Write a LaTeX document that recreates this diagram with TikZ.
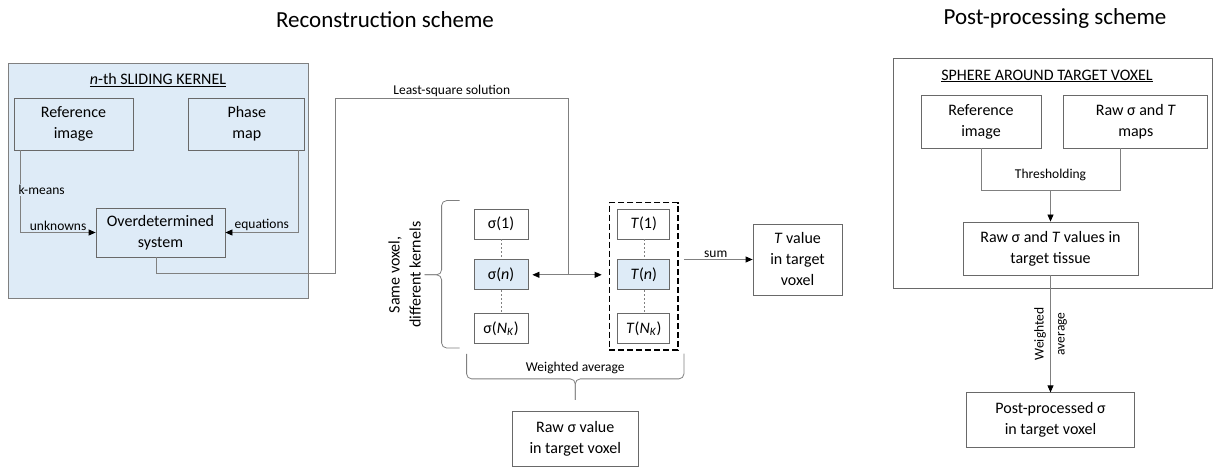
\documentclass[tikz,border=0pt]{standalone}
\usepackage{fontspec}
\setmainfont{Carlito}
\usepackage{tikz}
\usetikzlibrary{arrows.meta, positioning, fit, calc}
\definecolor{kernelblue}{RGB}{222,235,247}
\definecolor{boxgray}{RGB}{105,105,105}
\definecolor{linegray}{RGB}{128,128,128}
\newcommand{\boxfont}{\fontsize{16}{21}\selectfont}
\newcommand{\lblfont}{\fontsize{13.5}{16}\selectfont}
\newcommand{\titlefont}{\fontsize{23}{27}\selectfont}
\tikzstyle{block} = [rectangle, draw=boxgray, line width=0.8pt, fill=white, align=center, inner sep=0pt, font=\boxfont]
\tikzstyle{cell} = [block, minimum width=54pt, minimum height=30pt]
\tikzstyle{link} = [draw=linegray, line width=0.8pt]
\tikzstyle{arrow} = [link, -{Triangle[length=7pt, width=6pt, color=black]}]
\tikzstyle{dblarrow} = [link, {Triangle[length=7pt, width=6pt, color=black]}-{Triangle[length=7pt, width=6pt, color=black]}]
\tikzstyle{lbl} = [font=\lblfont, inner sep=1.5pt]
\tikzstyle{dotlink} = [draw=linegray, line width=0.5pt, dash pattern=on 2pt off 2pt]
\begin{document}
\begin{tikzpicture}[x=1pt, y=1pt]
    \useasboundingbox (0,0) rectangle (1213,466);
    % Titles
    \node (rectitle) at (385,446) {\titlefont Reconstruction scheme};
    \node (posttitle) at (1055,448) {\titlefont Post-processing scheme};

    % Sliding kernel box
    \node (kernel) [block, fill=kernelblue, draw=linegray, minimum width=300pt, minimum height=235pt] at (158,285.5) {};
    \node (ktitle) at (158,386) [font=\boxfont] {\underline{\textit{n}-th SLIDING KERNEL}};
    \node (refimg) [block, fill=kernelblue, minimum width=119pt, minimum height=52pt] at (73.5,342) {Reference\\image};
    \node (phase) [block, fill=kernelblue, right=55pt of refimg, minimum width=116pt, minimum height=52pt] {Phase\\map};
    \node (overdet) [block, fill=kernelblue, minimum width=129pt, minimum height=49pt] at (160.5,233.5) {Overdetermined\\system};
    \draw [arrow] ([xshift=7pt]refimg.south west) |- node[lbl, pos=0.24, anchor=west, xshift=-4pt, fill=kernelblue] (kmeans) {k-means} node[lbl, above, pos=0.75] (unk) {unknowns} (overdet.west);
    \draw [arrow] ([xshift=-7pt]phase.south east) |- node[lbl, above, pos=0.75] (eqs) {equations} (overdet.east);

    % Sigma and T columns
    \node (sig1) [cell] at (501,242) {σ(1)};
    \node (sign) [cell, fill=kernelblue, below=20pt of sig1] {σ(\textit{n})};
    \node (signk) [cell, below=23pt of sign] {σ(\textit{N}\textsubscript{\textit{K}})};
    \draw [dotlink] (sig1) -- (sign);
    \draw [dotlink] (sign) -- (signk);
    \node (t1) [cell, minimum width=52pt, right=89pt of sig1] {\textit{T}(1)};
    \node (tn) [cell, minimum width=52pt, fill=kernelblue, below=20pt of t1] {\textit{T}(\textit{n})};
    \node (tnk) [cell, minimum width=52pt, below=23pt of tn] {\textit{T}(\textit{N}\textsubscript{\textit{K}})};
    \draw [dotlink] (t1) -- (tn);
    \draw [dotlink] (tn) -- (tnk);
    \node (tbox) [draw=black, line width=1.5pt, dash pattern=on 6pt off 3pt, fit=(t1)(tnk), inner xsep=8pt, inner ysep=6pt] {};

    % Least-square solution
    \coordinate (join) at ($(sign.east)!0.5!(sign.east -| tbox.west)$);
    \draw [dblarrow, shorten <=4pt, shorten >=7pt] (sign.east) -- (sign.east -| tbox.west);
    \draw [link] ([xshift=-4.5pt]overdet.south) -- ++(0,-16) -| ++(179,175) -| node[lbl, above, pos=0.25] (lsq) {Least-square solution} (join);

    % Brace over the kernels
    \coordinate (lbtop) at ([xshift=-14pt, yshift=8pt]sig1.north west);
    \coordinate (lbbot) at ([xshift=-14pt, yshift=-4pt]signk.south west);
    \coordinate (lbtip) at ([xshift=-35pt]lbtop |- sign.west);
    \draw [link, rounded corners=5pt] (lbtop) -| ($(lbtip)+(17,0)$) -- (lbtip);
    \draw [link, rounded corners=5pt] (lbbot) -| ($(lbtip)+(17,0)$) -- (lbtip);
    \node (samevox) [rotate=90, font=\boxfont, align=center] at ($(lbtip)+(-20,0)$) {Same voxel,\\different kernels};

    % Brace under the columns
    \coordinate (bbl) at ([xshift=-7pt, yshift=-10pt]signk.south west);
    \coordinate (bbr) at ([xshift=5pt, yshift=-3pt]tbox.south east);
    \coordinate (bbtip) at ($($(bbl)!0.5!(bbr)$)+(0,-46)$);
    \draw [link, rounded corners=5pt] (bbl) |- ($(bbtip)+(0,21)$) -- (bbtip);
    \draw [link, rounded corners=5pt] (bbr) |- ($(bbtip)+(0,21)$) -- (bbtip);
    \node (wavg) [lbl] at ($(bbtip)+(0,32)$) {Weighted average};
    \node (rawsig) [block, below=11pt of bbtip, minimum width=126pt, minimum height=55pt] {Raw σ value\\in target voxel};

    % T value
    \node (tval) [block, minimum width=89pt, minimum height=71pt] at (797.5,206.5) {\textit{T} value\\in target\\voxel};
    \draw [arrow, shorten <=5pt] (tval.west -| tbox.east) -- node[lbl, above] (sum) {sum} (tval.west);

    % Sphere around target voxel
    \node (sphere) [block, minimum width=319pt, minimum height=230pt] at (1052.5,293) {};
    \node (stitle) at (1047,390) [font=\boxfont] {\underline{SPHERE AROUND TARGET VOXEL}};
    \node (refimg2) [block, minimum width=120pt, minimum height=53pt] at (981,344.5) {Reference\\image};
    \node (maps) [block, right=22pt of refimg2, minimum width=144pt, minimum height=53pt] {Raw σ and \textit{T}\\maps};
    \node (vals) [block, minimum width=175pt, minimum height=53pt] at (1050.5,217.5) {Raw σ and \textit{T} values in\\target tissue};
    \node (post) [block, below=117pt of vals, minimum width=168pt, minimum height=55pt] {Post-processed σ\\in target voxel};
    \draw [link] (refimg2.south) -- ++(0,-42) coordinate (thr) -| ([xshift=-15pt]maps.south);
    \node (thrlbl) [lbl, above=8pt] at (thr -| vals.north) {Thresholding};
    \draw [arrow] (thr -| vals.north) -- (vals.north);
    \draw [arrow] (vals.south) -- node[lbl, rotate=90, align=center, font=\fontsize{13.5}{21}\selectfont] (wavg2) {Weighted\\average} (post.north);
\end{tikzpicture}
\end{document}
